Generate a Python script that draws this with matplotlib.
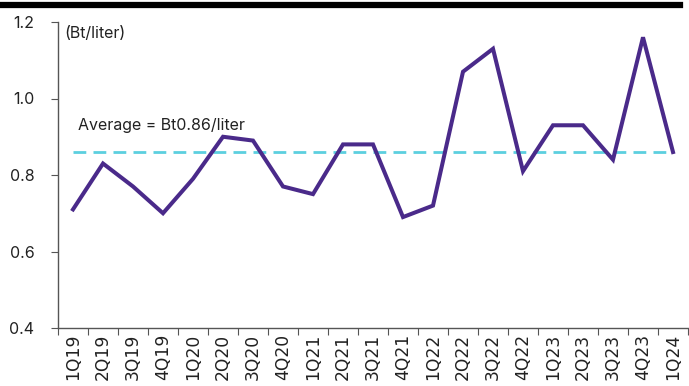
import matplotlib.pyplot as plt
from matplotlib.lines import Line2D

# quarterly price, Bt/liter
quarters = ['1Q19', '2Q19', '3Q19', '4Q19', '1Q20', '2Q20', '3Q20', '4Q20',
            '1Q21', '2Q21', '3Q21', '4Q21', '1Q22', '2Q22', '3Q22', '4Q22',
            '1Q23', '2Q23', '3Q23', '4Q23', '1Q24']
price = [0.71, 0.83, 0.77, 0.70, 0.79, 0.90, 0.89, 0.77,
         0.75, 0.88, 0.88, 0.69, 0.72, 1.07, 1.13, 0.81,
         0.93, 0.93, 0.84, 1.16, 0.86]
average = 0.86
yticks = [0.4, 0.6, 0.8, 1.0, 1.2]

plt.rcParams['font.family'] = ['Inter', 'DejaVu Sans']

fig = plt.figure(figsize=(6.89, 3.86), dpi=100)
ax = fig.add_axes([58 / 689, 58 / 386, 630 / 689, 306 / 386])

x = list(range(len(quarters)))
ax.plot(x, [average] * len(x), color='#5ccfdf', lw=2, dashes=(4.6, 2.6), zorder=2)
ax.plot(x, price, color='#4a2a8a', lw=2.9, solid_joinstyle='miter', zorder=3)

ax.set_xlim(-0.5, len(quarters) - 0.5)
ax.set_ylim(0.4, 1.2)
ax.set_yticks(yticks)
ax.set_yticklabels([f'{v:.1f}' for v in yticks], fontsize=11.5, color='#222222')
ax.set_xticks([i - 0.5 for i in range(len(quarters) + 1)])
ax.set_xticklabels([])
ax.set_xticks(x, minor=True)
ax.set_xticklabels(quarters, minor=True, rotation=90, fontsize=12.3,
                   family=['DejaVu Sans'], color='#222222')
ax.tick_params(axis='x', which='minor', length=0, pad=4)
ax.tick_params(axis='x', which='major', length=5, color='#555555')
ax.tick_params(axis='y', length=5, color='#555555', pad=12)

for s in ['top', 'right']:
    ax.spines[s].set_visible(False)
for s in ['left', 'bottom']:
    ax.spines[s].set_color('#555555')
    ax.spines[s].set_linewidth(1)

ax.text(-0.3, 1.17, '(Bt/liter)', fontsize=11.5, va='center', ha='left', color='#222222')
ax.text(0.17, 0.93, 'Average = Bt0.86/liter', fontsize=11.5, va='center', ha='left',
        color='#222222')

# heading rule
fig.add_artist(Line2D([0, 680 / 689], [1 - 5 / 386, 1 - 5 / 386],
                      color='black', lw=4.5, transform=fig.transFigure))

fig.savefig('out.png', dpi=100)
